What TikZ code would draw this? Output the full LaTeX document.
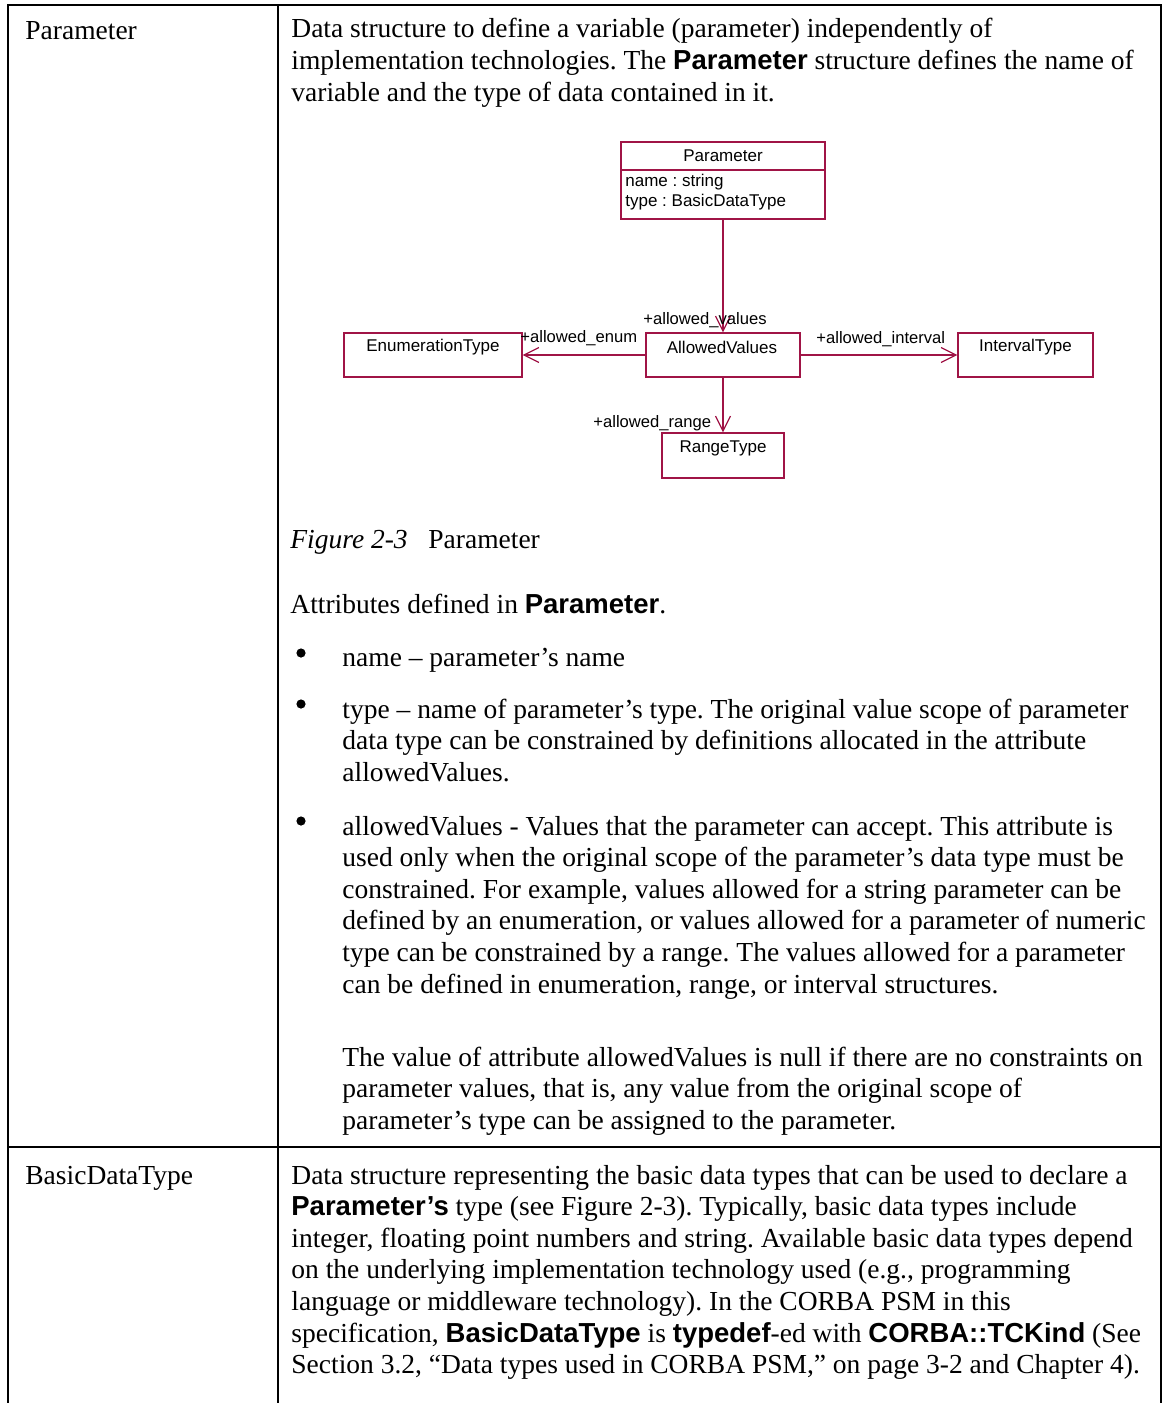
\documentclass[tikz,border=0pt]{standalone}
\usepackage{fontspec}
\setmainfont{Liberation Serif}
\setsansfont{Liberation Sans}
\newfontfamily\umlfont{Liberation Sans}
\usetikzlibrary{arrows.meta}
\definecolor{umlred}{RGB}{160,20,70}
\newcommand\kw[1]{{\sffamily\bfseries #1}}

\begin{document}
\frenchspacing
\begin{tikzpicture}[x=0.5pt,y=-0.5pt,
  rule/.style={line width=0.9pt, black},
  % multi-line nodes are placed by the baseline of their last line
  body/.style={anchor=base west, inner sep=0pt, align=left,
    font=\fontsize{13.75}{15.8}\selectfont},
  dot/.style={circle, fill=black, inner sep=0pt, minimum size=4.6pt},
  umlbox/.style={draw=umlred, line width=0.6pt, inner sep=0pt},
  umltext/.style={inner sep=0pt, font=\umlfont\fontsize{8.5}{10}\selectfont},
  roletext/.style={inner sep=0pt, anchor=west, font=\umlfont\fontsize{8.3}{10}\selectfont},
  assoc/.style={draw=umlred, line width=0.6pt,
    -{Straight Barb[length=7.5pt, width=7.5pt, line width=0.6pt]}},
]
\useasboundingbox (0,0) rectangle (1166,1403);

% table rules
\coordinate (tl) at (8,5);
\coordinate (tm) at (278,5);
\coordinate (tr) at (1161,5);
\coordinate (bl) at (8,1403);
\coordinate (bm) at (278,1403);
\coordinate (br) at (1161,1403);
\coordinate (rl) at (7,1147);
\coordinate (rr) at (1161,1147);
\draw[rule] (bl) -- (tl) -- (tr) -- (br);
\draw[rule] (tm) -- (bm);
\draw[rule] (rl) -- (rr);

% first row
\node[body] (lab1) at (25,39) {Parameter};
\node[body] (p1) at (291,101) {Data structure to define a variable (parameter) independently of\\
implementation technologies. The \kw{Parameter} structure defines the name of\\
variable and the type of data contained in it.};

% class diagram
\node[umlbox, minimum width=102pt, minimum height=38.5pt] (param) at (723,180.5) {};
\draw[umlred, line width=0.6pt] (param.west |- 0,170) -- (param.east |- 0,170);
\node[umltext] (paramt) at (723,156) {Parameter};
\node[umltext, anchor=west] (attr1) at (625,182) {name : string};
\node[umltext, anchor=west] (attr2) at (625,202) {type : BasicDataType};

\node[umlbox, minimum width=77pt, minimum height=22pt] (allowed) at (723,355) {};
\node[umltext] (allowedt) at (722,347) {AllowedValues};
\node[umlbox, minimum width=89pt, minimum height=22pt] (enum) at (433,355) {};
\node[umltext] (enumt) at (433,347) {EnumerationType};
\node[umlbox, minimum width=67.5pt, minimum height=22pt] (interval) at (1025.5,355) {};
\node[umltext] (intervalt) at (1025.5,347) {IntervalType};
\node[umlbox, minimum width=61pt, minimum height=22.5pt] (range) at (723,455.5) {};
\node[umltext] (ranget) at (723,448) {RangeType};

\draw[assoc] (param.south) -- (allowed.north);
\draw[assoc] (allowed.west) -- (enum.east);
\draw[assoc] (allowed.east) -- (interval.west);
\draw[assoc] (allowed.south) -- (range.north);

\node[roletext] (rvalues) at (643,320) {+allowed\_values};
\node[roletext] (renum) at (520,338) {+allowed\_enum};
\node[roletext] (rinterval) at (816,339) {+allowed\_interval};
\node[roletext] (rrange) at (593,423) {+allowed\_range};

% caption and attribute list
\node[body] (capn) at (290,548) {\textit{Figure 2-3}};
\node[body] (capt) at (428,548) {Parameter};
\node[body] (attrs) at (290,613) {Attributes defined in \kw{Parameter}.};

\node[dot] (d1) at (301,653) {};
\node[body] (b1) at (342,666) {name -- parameter's name};
\node[dot] (d2) at (301,704) {};
\node[body] (b2) at (342,781.2) {type -- name of parameter's type. The original value scope of parameter\\
data type can be constrained by definitions allocated in the attribute\\
allowedValues.};
\node[dot] (d3) at (301,821) {};
\node[body] (b3) at (342,993) {allowedValues - Values that the parameter can accept. This attribute is\\
used only when the original scope of the parameter's data type must be\\
constrained. For example, values allowed for a string parameter can be\\
defined by an enumeration, or values allowed for a parameter of numeric\\
type can be constrained by a range. The values allowed for a parameter\\
can be defined in enumeration, range, or interval structures.};
\node[body] (b3n) at (342,1129.2) {The value of attribute allowedValues is null if there are no constraints on\\
parameter values, that is, any value from the original scope of\\
parameter's type can be assigned to the parameter.};

% second row
\node[body] (lab2) at (25,1184) {BasicDataType};
\node[body] (p2) at (291,1373.6) {Data structure representing the basic data types that can be used to declare a\\
\kw{Parameter's} type (see Figure 2-3). Typically, basic data types include\\
integer, floating point numbers and string. Available basic data types depend\\
on the underlying implementation technology used (e.g., programming\\
language or middleware technology). In the CORBA PSM in this\\
specification, \kw{BasicDataType} is \kw{typedef}-ed with \kw{CORBA::TCKind} (See\\
Section 3.2, ``Data types used in CORBA PSM,'' on page 3-2 and Chapter 4).};
\end{tikzpicture}
\end{document}
